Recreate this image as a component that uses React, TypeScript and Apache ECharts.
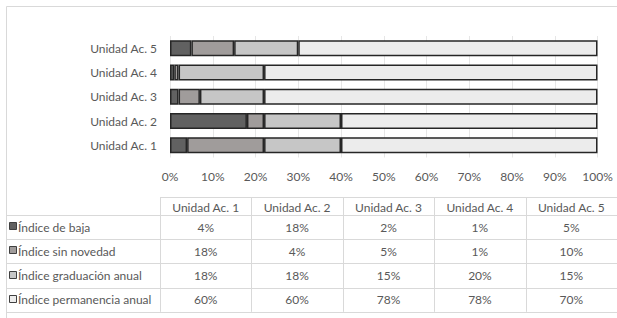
import React, { useEffect, useRef } from "react";
import * as echarts from "echarts";

const categories = ["Unidad Ac. 1", "Unidad Ac. 2", "Unidad Ac. 3", "Unidad Ac. 4", "Unidad Ac. 5"];
const seriesNames = ["Índice de baja", "Índice sin novedad", "Índice graduación anual", "Índice permanencia anual"];
const baja = [4, 18, 2, 1, 5];
const sinNovedad = [18, 4, 5, 1, 10];
const graduacion = [18, 18, 15, 20, 15];
const permanencia = [60, 60, 78, 78, 70];
const seriesData = [baja, sinNovedad, graduacion, permanencia];
const colors = ["#616161", "#a09c9b", "#c6c6c6", "#ececec"];

const FONT = "Lato";
const TXT = "#595959";
const LINE = "#d9d9d9";

export default function App() {
  const ref = useRef<HTMLDivElement>(null);
  useEffect(() => {
    if (!ref.current) return;
    const chart = echarts.init(ref.current, null, { renderer: "svg" });

    const tLeft = 160;
    const tRight = 617;
    const colW = (tRight - tLeft) / categories.length;
    const headTop = 197;
    const headBottom = 215;
    const rowH = 24.2;
    const bottom = headBottom + rowH * seriesNames.length;

    const g: any[] = [];
    // outer border
    g.push({ type: "rect", shape: { x: 6.5, y: 6.5, width: 640, height: 340 }, style: { fill: "none", stroke: "#d9d9d9", lineWidth: 1 }, silent: true });
    // header top line
    g.push({ type: "line", shape: { x1: tLeft, y1: headTop + 0.5, x2: tRight, y2: headTop + 0.5 }, style: { stroke: LINE, lineWidth: 1 } });
    // horizontal lines
    for (let i = 0; i <= seriesNames.length; i++) {
      const y = Math.round(headBottom + rowH * i) + 0.5;
      g.push({ type: "line", shape: { x1: 6, y1: y, x2: tRight, y2: y }, style: { stroke: LINE, lineWidth: 1 } });
    }
    // vertical lines
    for (let c = 0; c <= categories.length; c++) {
      const x = Math.round(tLeft + colW * c) + 0.5;
      g.push({ type: "line", shape: { x1: x, y1: headTop, x2: x, y2: bottom }, style: { stroke: LINE, lineWidth: 1 } });
    }
    // header texts
    categories.forEach((cat, c) => {
      g.push({
        type: "text",
        x: tLeft + colW * (c + 0.5),
        y: (headTop + headBottom) / 2 + 1,
        style: { text: cat, fill: TXT, font: `12px ${FONT}`, align: "center", verticalAlign: "middle" },
      });
    });
    // rows
    seriesNames.forEach((name, r) => {
      const cy = headBottom + rowH * (r + 0.5);
      g.push({ type: "rect", shape: { x: 9.5, y: Math.round(cy) - 4.5, width: 7, height: 7 }, style: { fill: colors[r], stroke: "#404040", lineWidth: 1 } });
      g.push({ type: "text", x: 18, y: cy, style: { text: name, fill: TXT, font: `12px ${FONT}`, align: "left", verticalAlign: "middle" } });
      seriesData[r].forEach((v, c) => {
        g.push({
          type: "text",
          x: tLeft + colW * (c + 0.5),
          y: cy,
          style: { text: v + "%", fill: TXT, font: `12px ${FONT}`, align: "center", verticalAlign: "middle" },
        });
      });
    });

    chart.setOption({
      animation: false,
      backgroundColor: "#ffffff",
      grid: { left: 170, right: 19.5, top: 36, height: 121.5 },
      xAxis: {
        type: "value",
        min: 0,
        max: 100,
        interval: 10,
        axisLine: { show: false },
        axisTick: { show: false },
        splitLine: { show: true, lineStyle: { color: "#e6e6e6", width: 1 } },
        axisLabel: { formatter: "{value}%", color: TXT, fontFamily: FONT, fontSize: 12, margin: 13 },
      },
      yAxis: {
        type: "category",
        data: categories,
        axisLine: { show: false },
        axisTick: { show: false },
        axisLabel: { color: TXT, fontFamily: FONT, fontSize: 12, margin: 13 },
      },
      series: seriesNames.map((name, i) => ({
        name,
        type: "bar",
        stack: "total",
        data: seriesData[i],
        barWidth: 16,
        itemStyle: { color: colors[i], borderColor: "#262626", borderWidth: 1.5 },
      })),
      graphic: g,
    });
    return () => chart.dispose();
  }, []);
  return <div ref={ref} style={{ width: 617, height: 318, position: "absolute", left: 0, top: 0 }} />;
}
